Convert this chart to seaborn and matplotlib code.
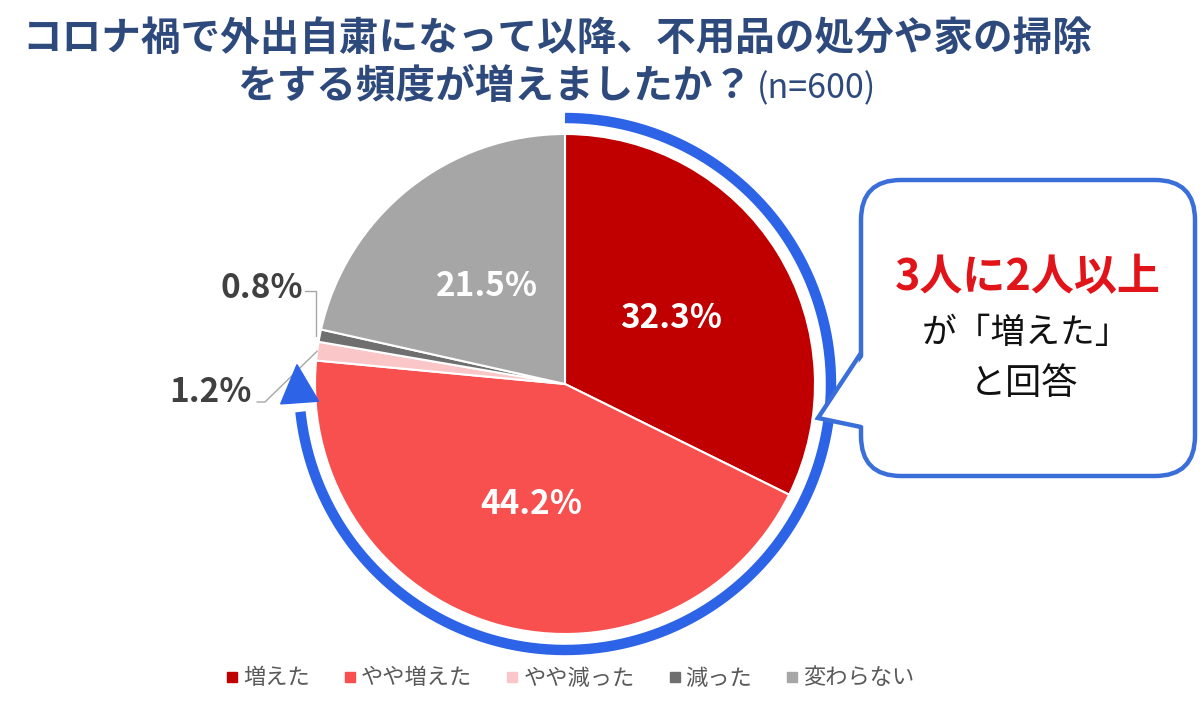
import numpy as np
import seaborn as sns
import matplotlib.pyplot as plt
from matplotlib.patches import FancyBboxPatch, Polygon
from matplotlib.lines import Line2D

# ----------------------------
# Data
# ----------------------------
categories = ["増えた", "やや増えた", "やや減った", "減った", "変わらない"]
shares = [32.3, 44.2, 1.2, 0.8, 21.5]
colors = ["#C00000", "#F84F4F", "#FBC6C8", "#6F6F6F", "#A6A6A6"]
title_line1 = "コロナ禍で外出自粛になって以降、不用品の処分や家の掃除"
title_line2 = "をする頻度が増えましたか？"
sample_note = "(n=600)"
callout_lines = ["3人に2人以上", "が「増えた」", "と回答"]

# ----------------------------
# Setup
# ----------------------------
sns.set_theme(style="white")
plt.rcParams["font.family"] = ["Noto Sans CJK JP", "DejaVu Sans"]

W, H = 1200, 716
fig = plt.figure(figsize=(W / 100, H / 100), dpi=100)
ax = fig.add_axes([0, 0, 1, 1])


def Y(y):
    # pixel row (from top) -> data y
    return H - y


cx, cy, R = 565, Y(384), 250
title_color = "#2E4A7D"
blue = "#2D63E6"

wedges, _ = ax.pie(
    shares,
    colors=colors,
    startangle=90,
    counterclock=False,
    radius=R,
    center=(cx, cy),
    wedgeprops=dict(edgecolor="white", linewidth=1.5),
)
ax.set_xlim(0, W)
ax.set_ylim(0, H)
ax.set_aspect("equal")
ax.axis("off")


def mid_angle(w):
    return np.deg2rad((w.theta1 + w.theta2) / 2)


# labels inside the big wedges
for w, v in zip(wedges, shares):
    if v < 5:
        continue
    a = mid_angle(w)
    ax.text(cx + 0.5 * R * np.cos(a), cy + 0.5 * R * np.sin(a), f"{v:.1f}%",
            ha="center", va="center", color="white", fontsize=24, fontweight="bold")

# small wedges with leader lines
lead_col = "#A6A6A6"
lab_col = "#404040"
a = mid_angle(wedges[3])
ex, ey = cx + R * np.cos(a), cy + R * np.sin(a)
ax.plot([305, ex - 4, ex - 4], [Y(291), Y(291), ey], color=lead_col, lw=1)
ax.text(303, Y(288), f"{shares[3]:.1f}%", ha="right", va="center",
        color=lab_col, fontsize=24, fontweight="bold")

a = mid_angle(wedges[2])
ex, ey = cx + R * np.cos(a), cy + R * np.sin(a)
ax.plot([257, 265, ex], [Y(402), Y(402), ey], color=lead_col, lw=1)
ax.text(252, Y(393), f"{shares[2]:.1f}%", ha="right", va="center",
        color=lab_col, fontsize=24, fontweight="bold")

# ----------------------------
# Blue arrow around the "increased" share
# ----------------------------
Ra = 266
end_deg = -176.0
th = np.deg2rad(np.linspace(90, end_deg + 2, 300))
ax.plot(cx + Ra * np.cos(th), cy + Ra * np.sin(th), color=blue, lw=7.5,
        solid_capstyle="butt", zorder=3)
te = np.deg2rad(end_deg)
base = np.array([cx + Ra * np.cos(te), cy + Ra * np.sin(te)])
tang = np.array([np.sin(te), -np.cos(te)])
norm = np.array([np.cos(te), np.sin(te)])
head = Polygon([base + 19 * norm, base - 19 * norm, base + 38 * tang],
               closed=True, color=blue, zorder=4)
ax.add_patch(head)

# ----------------------------
# Callout
# ----------------------------
box = FancyBboxPatch((861, Y(476)), 334, 296,
                     boxstyle="round,pad=0,rounding_size=40",
                     facecolor="white", edgecolor="#3A6FD9", lw=3.2, zorder=3)
ax.add_patch(box)
tail = [(861, Y(353)), (818, Y(418)), (861, Y(427))]
ax.add_patch(Polygon([(866, Y(353)), (818, Y(418)), (866, Y(427))],
                     closed=True, facecolor="white", edgecolor="none", zorder=4))
ax.plot([p[0] for p in tail], [p[1] for p in tail], color="#3A6FD9", lw=3.2,
        solid_joinstyle="miter", zorder=5)

ax.text(1028, Y(277), callout_lines[0], ha="center", va="center",
        color="#E01419", fontsize=31, fontweight="bold", zorder=6)
ax.text(1026, Y(334), callout_lines[1], ha="center", va="center",
        color="#111111", fontsize=25, zorder=6)
ax.text(1024, Y(384), callout_lines[2], ha="center", va="center",
        color="#111111", fontsize=26, zorder=6)

# ----------------------------
# Title
# ----------------------------
ax.text(557, Y(38), title_line1, ha="center", va="center",
        color=title_color, fontsize=28.5, fontweight="bold")
ax.text(752, Y(86), title_line2, ha="right", va="center",
        color=title_color, fontsize=28.5, fontweight="bold")
ax.text(757, Y(89), sample_note, ha="left", va="center",
        color=title_color, fontsize=24.5)

# ----------------------------
# Legend
# ----------------------------
handles = [Line2D([], [], marker="s", linestyle="none", markersize=6.5,
                  markerfacecolor=c, markeredgecolor=c) for c in colors]
ax.legend(handles, categories, loc="center", bbox_to_anchor=(570 / W, 1 - 678 / H),
          ncol=5, frameon=False, fontsize=16, handletextpad=0.2,
          columnspacing=1.5, handlelength=0.6, labelcolor="#595959")

fig.savefig("out.png", dpi=100)
plt.close(fig)
